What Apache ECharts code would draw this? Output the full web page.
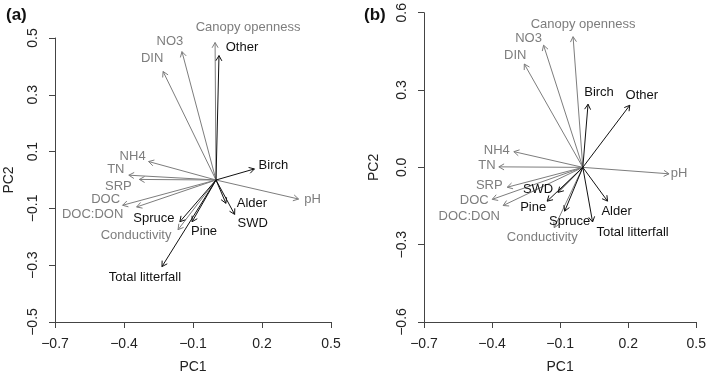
<!DOCTYPE html>
<html>
<head>
<meta charset="utf-8">
<script src="https://cdn.jsdelivr.net/npm/echarts/dist/echarts.min.js"></script>
<style>
html, body { margin: 0; padding: 0; background: #fff; }
#chart { width: 709px; height: 379px; }
</style>
</head>
<body>
<div id="chart"></div>
<script>
// environmental variables (grey arrows)
const envVars = ['Canopy openness', 'NO3', 'DIN', 'NH4', 'TN', 'SRP', 'DOC', 'DOC:DON', 'Conductivity', 'pH'];
const envA_PC1 = [-0.004, -0.148, -0.230, -0.293, -0.379, -0.333, -0.406, -0.345, -0.165, 0.359];
const envA_PC2 = [0.484, 0.452, 0.382, 0.065, 0.017, 0.002, -0.089, -0.095, -0.175, -0.067];
const envB_PC1 = [-0.043, -0.173, -0.258, -0.304, -0.370, -0.333, -0.399, -0.351, -0.126, 0.380];
const envB_PC2 = [0.507, 0.474, 0.401, 0.061, 0.002, -0.077, -0.124, -0.148, -0.234, -0.025];

// litter components (black arrows)
const litVars = ['Other', 'Birch', 'Alder', 'SWD', 'Pine', 'Spruce', 'Total litterfall'];
const litA_PC1 = [0.013, 0.167, 0.043, 0.081, -0.104, -0.157, -0.235];
const litA_PC2 = [0.438, 0.039, -0.082, -0.121, -0.147, -0.147, -0.305];
const litB_PC1 = [0.207, 0.023, 0.109, -0.109, -0.157, -0.080, 0.043];
const litB_PC2 = [0.241, 0.245, -0.131, -0.097, -0.131, -0.170, -0.212];

// axis ticks
const xTicks = [-0.7, -0.4, -0.1, 0.2, 0.5];
const yTicksA = [-0.5, -0.3, -0.1, 0.1, 0.3, 0.5];
const yTicksB = [-0.6, -0.3, 0.0, 0.3, 0.6];

// label placement (pixel offset from arrow tip)
const offA = {
  'Canopy openness': [33, -15], 'NO3': [-12, -10], 'DIN': [-11, -13], 'NH4': [-16, -5],
  'TN': [-13, -6], 'SRP': [-21, 7], 'DOC': [-17, -6], 'DOC:DON': [-44, 7],
  'Conductivity': [-42, 6], 'pH': [14, 0],
  'Other': [23, -8], 'Birch': [19, -4], 'Alder': [26, 0], 'SWD': [18, 9],
  'Pine': [12, 10], 'Spruce': [-26, -3], 'Total litterfall': [-17, 11]
};
const offB = {
  'Canopy openness': [10, -12], 'NO3': [-15, -7], 'DIN': [-9, -9], 'NH4': [-17, -1],
  'TN': [-12, -1], 'SRP': [-18, -2], 'DOC': [-18, 1], 'DOC:DON': [-34, 11],
  'Conductivity': [-12, 10], 'pH': [10, 0],
  'Other': [12, -10], 'Birch': [11, -12], 'Alder': [9, 10], 'SWD': [-20, -3],
  'Pine': [-14, 6], 'Spruce': [5, 10], 'Total litterfall': [40, 10]
};

const FONT = 'Liberation Sans, Arial, Helvetica, sans-serif';
const GREY = '#7d7d7d';
const BLACK = '#111';

const fmt = v => v.toFixed(1).replace('-', '\u2212');

const arrows = (names, pc1, pc2, color, offsets, idx) => ({
  type: 'custom',
  xAxisIndex: idx,
  yAxisIndex: idx,
  clip: false,
  silent: true,
  data: pc1.map((v, i) => [v, pc2[i]]),
  renderItem: (params, api) => {
    const o = api.coord([0, 0]);
    const p = api.coord([api.value(0), api.value(1)]);
    const ang = Math.atan2(p[1] - o[1], p[0] - o[0]);
    const h = 6, w = Math.PI / 6;
    const head = [
      [p[0] - h * Math.cos(ang - w), p[1] - h * Math.sin(ang - w)],
      [p[0], p[1]],
      [p[0] - h * Math.cos(ang + w), p[1] - h * Math.sin(ang + w)]
    ];
    const name = names[params.dataIndex];
    const off = offsets[name] || [0, 0];
    return {
      type: 'group',
      children: [
        { type: 'line', shape: { x1: o[0], y1: o[1], x2: p[0], y2: p[1] }, style: { stroke: color, lineWidth: 1 } },
        { type: 'polyline', shape: { points: head }, style: { stroke: color, fill: null, lineWidth: 1 } },
        {
          type: 'text', x: p[0] + off[0], y: p[1] + off[1],
          style: { text: name, fill: color, font: '13px ' + FONT, align: 'center', verticalAlign: 'middle' }
        }
      ]
    };
  }
});

const xAxisCfg = (idx) => ({
  type: 'value', gridIndex: idx, min: -0.7, max: 0.5,
  name: 'PC1', nameLocation: 'middle', nameGap: 38,
  nameTextStyle: { fontFamily: FONT, fontSize: 14, color: '#222' },
  axisLine: { show: true, onZero: false, lineStyle: { color: '#444', width: 1 } },
  axisTick: { show: true, inside: false, length: 6, customValues: xTicks, lineStyle: { color: '#444' } },
  axisLabel: { customValues: xTicks, formatter: fmt, margin: 15, fontFamily: FONT, fontSize: 14, color: '#222' },
  splitLine: { show: false }
});

const yAxisCfg = (idx, min, max, ticks, gap) => ({
  type: 'value', gridIndex: idx, min: min, max: max,
  name: 'PC2', nameLocation: 'middle', nameGap: gap, nameRotate: 90,
  nameTextStyle: { fontFamily: FONT, fontSize: 14, color: '#222' },
  axisLine: { show: true, onZero: false, lineStyle: { color: '#444', width: 1 } },
  axisTick: { show: true, inside: false, length: 6, customValues: ticks, lineStyle: { color: '#444' } },
  axisLabel: { customValues: ticks, formatter: fmt, rotate: 90, margin: 15, fontFamily: FONT, fontSize: 14, color: '#222' },
  splitLine: { show: false }
});

const chart = echarts.init(document.getElementById('chart'));
chart.setOption({
  animation: false,
  backgroundColor: '#fff',
  title: [
    { text: '(a)', left: 1, top: 2, textStyle: { fontFamily: FONT, fontSize: 17, fontWeight: 'bold', color: '#111' } },
    { text: '(b)', left: 359, top: 2, textStyle: { fontFamily: FONT, fontSize: 17, fontWeight: 'bold', color: '#111' } }
  ],
  grid: [
    { left: 55, top: 38, width: 276, height: 292 },
    { left: 424, top: 9.5, width: 276, height: 320.5 }
  ],
  xAxis: [xAxisCfg(0), xAxisCfg(1)],
  yAxis: [
    yAxisCfg(0, -0.5, 0.5, yTicksA, 39),
    yAxisCfg(1, -0.6, 0.6, yTicksB, 43)
  ],
  series: [
    arrows(envVars, envA_PC1, envA_PC2, GREY, offA, 0),
    arrows(litVars, litA_PC1, litA_PC2, BLACK, offA, 0),
    arrows(envVars, envB_PC1, envB_PC2, GREY, offB, 1),
    arrows(litVars, litB_PC1, litB_PC2, BLACK, offB, 1)
  ]
});
</script>
</body>
</html>
